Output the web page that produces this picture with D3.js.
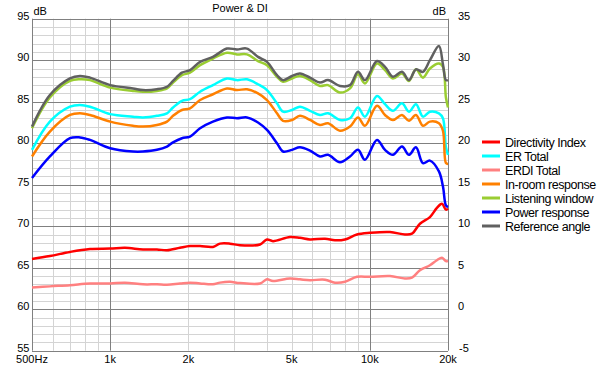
<!DOCTYPE html>
<html><head><meta charset="utf-8">
<script src="https://cdn.jsdelivr.net/npm/d3@7"></script>
<style>
html,body{margin:0;padding:0;background:#fff;}
svg{display:block;font-family:"Liberation Sans",Arial,sans-serif;}
</style></head>
<body><svg id="c" width="600" height="368"></svg>
<script>
// Frequencies (Hz) for the SPL curves
const freqs = [500,586,700,765,836,1000,1224,1338,1514,1655,1746,1890,2030,2219,2488,2817,3078,3364,3709,4017,4389,4630,5014,5381,5882,6427,6900,7674,8387,9002,9577,10654,11440,12273,13297,14148,15053,16016,17039,18454,19121,19636,20000];
const referenceAngle = [82.0,85.8,87.8,88.1,87.9,87.0,86.6,86.4,86.5,86.8,87.5,88.5,88.8,89.8,90.4,91.4,91.3,91.4,90.4,89.8,88.2,87.6,88.1,88.4,87.9,87.3,87.6,86.9,87.0,88.6,87.6,89.9,89.2,88.0,88.6,87.6,88.9,88.6,90.0,91.7,89.5,87.6,87.6];
const listeningWindow = [81.8,85.5,87.5,87.7,87.6,86.7,86.3,86.2,86.3,86.6,87.3,88.2,88.5,89.4,90.2,90.9,90.7,90.7,89.9,89.4,88.0,87.4,87.8,88.1,87.6,86.9,87.0,86.1,86.6,88.3,87.2,89.6,88.8,87.8,88.4,87.5,88.9,87.9,89.0,89.6,89.2,85.5,84.3];
const erTotal = [79.2,82.6,84.4,84.6,84.4,83.5,83.2,83.1,83.3,83.6,84.3,85.1,85.3,86.2,87.0,87.8,87.6,87.7,87.1,86.4,84.8,83.8,84.0,84.4,83.9,83.4,83.6,82.8,83.0,84.3,83.2,85.7,84.7,83.9,84.8,83.8,84.7,83.2,83.8,83.6,83.0,79.5,78.6];
const inRoom = [78.4,81.4,83.4,83.6,83.4,82.6,82.1,82.0,82.2,82.6,83.3,84.0,84.2,85.2,85.9,86.6,86.4,86.5,86.0,85.2,83.6,82.7,82.8,83.3,82.8,82.2,82.4,81.5,82.0,83.1,82.1,84.5,83.4,82.8,83.4,82.7,83.4,82.1,82.6,82.4,81.5,77.6,77.5];
const powerResponse = [75.8,78.4,80.6,80.7,80.4,79.4,79.0,79.0,79.2,79.6,80.1,80.6,80.8,81.8,82.6,83.1,83.0,83.1,82.5,81.6,80.0,79.0,79.2,79.5,79.1,78.4,78.6,77.7,78.4,79.2,78.0,80.4,79.2,78.6,79.6,78.6,79.5,77.6,77.9,76.6,74.8,72.5,72.3];
// Frequencies (Hz) for the directivity curves (right axis)
const diFreqs = [500,586,700,836,1000,1140,1338,1514,1655,1857,2030,2219,2488,2649,2893,3161,3776,4017,4236,4925,5381,5882,6720,7340,8022,8922,10010,11957,13655,14530,15595,17039,18128,18953,19636,20000];
const directivityIndex = [6.05,6.4,6.9,7.25,7.3,7.4,7.2,7.2,7.1,7.4,7.6,7.6,7.5,7.9,7.9,7.7,7.8,8.4,8.2,8.7,8.6,8.4,8.5,8.3,8.4,9.0,9.2,9.3,9.0,9.1,10.3,11.1,12.2,12.7,12.0,12.1];
const erdiTotal = [2.6,2.75,2.9,3.1,3.1,3.2,3.0,3.0,2.95,3.1,3.2,3.1,3.0,3.2,3.3,3.15,3.1,3.6,3.4,3.7,3.6,3.5,3.55,3.2,3.3,3.9,3.9,4.0,3.7,3.8,4.7,5.3,5.9,6.2,5.8,5.8];
// Axis ticks
const xTickValues = [500,1000,2000,5000,10000,20000];
const xTickLabels = ["500Hz","1k","2k","5k","10k","20k"];
const leftTicks = [55,60,65,70,75,80,85,90,95];
const rightTicks = [-5,0,5,10,15,20,25,30,35];
const seriesNames = ["Directivity Index","ER Total","ERDI Total","In-room response","Listening window","Power response","Reference angle"];
const seriesColors = ["#ff0000","#00ffff","#ff8080","#ff8000","#9acd32","#0000ff","#606060"];

const svg = d3.select("#c");
const L=32, R=448, T=18.7, B=350.7;
const x = d3.scaleLog().domain([500,20000]).range([L,R]);
const yL = d3.scaleLinear().domain([55,95]).range([B,T]);
const yR = d3.scaleLinear().domain([-5,35]).range([B,T]);

const g = svg.append("g");
// minor grid
const minorX = [];
[100,1000,10000].forEach(d=>{for(let k=1;k<10;k++){const v=d*k; if(v>500 && v<20000) minorX.push(v);}});
g.selectAll(".mx").data(minorX.filter(v=>v!==1000&&v!==10000)).enter().append("line")
 .attr("x1",d=>Math.round(x(d))+0.5).attr("x2",d=>Math.round(x(d))+0.5).attr("y1",T).attr("y2",B)
 .attr("stroke","#d4d4d4").attr("stroke-width",1);
g.selectAll(".my").data(d3.range(56,95).filter(v=>v%5!==0)).enter().append("line")
 .attr("x1",L).attr("x2",R).attr("y1",d=>Math.round(yL(d))+0.5).attr("y2",d=>Math.round(yL(d))+0.5)
 .attr("stroke","#d4d4d4").attr("stroke-width",1);
// major grid
g.selectAll(".My").data(leftTicks).enter().append("line")
 .attr("x1",L).attr("x2",R).attr("y1",d=>Math.round(yL(d))+0.5).attr("y2",d=>Math.round(yL(d))+0.5)
 .attr("stroke","#808080").attr("stroke-width",1);
g.selectAll(".Mx").data([500,1000,10000,20000]).enter().append("line")
 .attr("x1",d=>Math.round(x(d))+0.5).attr("x2",d=>Math.round(x(d))+0.5).attr("y1",T).attr("y2",B)
 .attr("stroke","#808080").attr("stroke-width",1);

// axes labels
const txt = svg.append("g").attr("font-size",11).attr("fill","#000");
txt.selectAll(".lt").data(leftTicks).enter().append("text")
 .attr("x",29.5).attr("y",d=>yL(d)+1.2).attr("text-anchor","end").text(d=>d);
txt.selectAll(".rt").data(rightTicks).enter().append("text")
 .attr("x",d=>d<0?459:458).attr("y",d=>yR(d)+1.2).attr("text-anchor","start").text(d=>d);
txt.selectAll(".xt").data(xTickValues).enter().append("text")
 .attr("x",d=>x(d)).attr("y",362.8).attr("text-anchor","middle").text((d,i)=>xTickLabels[i]);
txt.append("text").attr("x",240).attr("y",12).attr("text-anchor","middle").text("Power & DI");
txt.append("text").attr("x",33.5).attr("y",15).text("dB");
txt.append("text").attr("x",446).attr("y",15).attr("text-anchor","end").text("dB");

// curves
const lineL = (fs)=>d3.line().x((d,i)=>x(fs[i])).y(d=>yL(d)).curve(d3.curveCatmullRom.alpha(0.5));
const lineR = (fs)=>d3.line().x((d,i)=>x(fs[i])).y(d=>yR(d)).curve(d3.curveCatmullRom.alpha(0.5));
const series = [
 {data:directivityIndex, gen:lineR(diFreqs)},
 {data:erTotal, gen:lineL(freqs)},
 {data:erdiTotal, gen:lineR(diFreqs)},
 {data:inRoom, gen:lineL(freqs)},
 {data:listeningWindow, gen:lineL(freqs)},
 {data:powerResponse, gen:lineL(freqs)},
 {data:referenceAngle, gen:lineL(freqs)}
];
svg.append("g").selectAll("path").data(series).enter().append("path")
 .attr("d",d=>d.gen(d.data)).attr("fill","none")
 .attr("stroke",(d,i)=>seriesColors[i]).attr("stroke-width",2.5).attr("stroke-linejoin","round");

// legend
const lg = svg.append("g");
seriesNames.forEach((n,i)=>{
  const yy = 142 + i*14;
  lg.append("line").attr("x1",482).attr("x2",500).attr("y1",yy).attr("y2",yy)
    .attr("stroke",seriesColors[i]).attr("stroke-width",3);
  lg.append("text").attr("x",505).attr("y",yy+4.5).attr("font-size",12.5)
    .attr("letter-spacing","-0.45").attr("fill","#000").text(n);
});
</script></body></html>
